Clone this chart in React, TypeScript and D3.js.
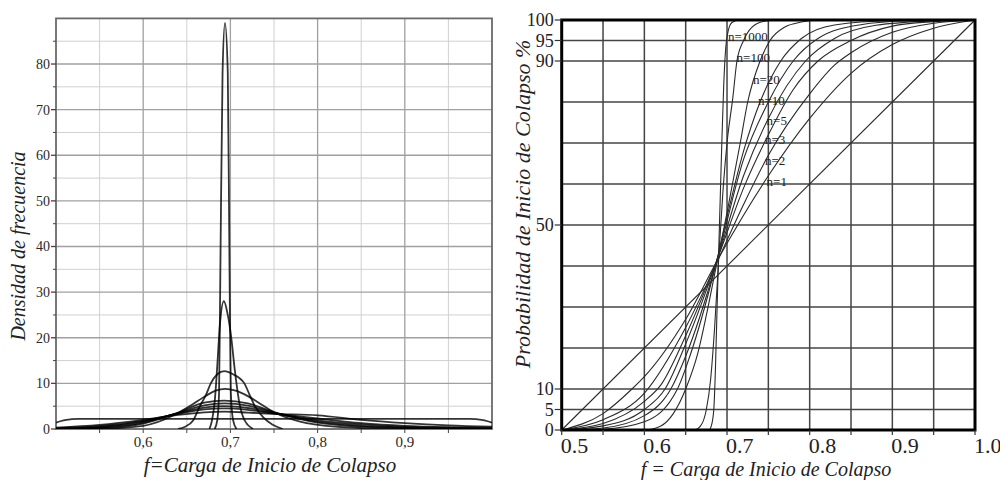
import React from 'react';
import * as d3 from 'd3';

// ---------- Left panel: frequency density ----------
const densTickValues = [0, 10, 20, 30, 40, 50, 60, 70, 80];
const densMinorValues = [5, 15, 25, 35, 45, 55, 65, 75, 85];
const fLeftTickValues = [0.6, 0.7, 0.8, 0.9];
const fLeftTickLabels = ['0,6', '0,7', '0,8', '0,9'];
const fLeftMinorValues = [0.55, 0.65, 0.75, 0.85, 0.95];

const dens_n1 = [[0.5, 1.4], [0.505, 1.7], [0.512, 2.0], [0.525, 2.2], [0.6, 2.2], [0.7, 2.2], [0.8, 2.2], [0.9, 2.2], [0.975, 2.2], [0.988, 2.0], [0.995, 1.7], [1.0, 1.4]];
const dens_n2 = [[0.5, 0.3], [0.55, 0.9], [0.6, 2.0], [0.64, 3.1], [0.67, 3.65], [0.693, 3.8], [0.72, 3.6], [0.75, 3.3], [0.8, 3.0], [0.85, 2.0], [0.9, 1.3], [0.95, 0.8], [1.0, 0.5]];
const dens_n3 = [[0.5, 0.15], [0.55, 0.6], [0.6, 1.8], [0.64, 3.3], [0.67, 4.3], [0.693, 4.5], [0.72, 4.2], [0.75, 3.4], [0.8, 2.3], [0.85, 1.3], [0.9, 0.7], [0.95, 0.4], [1.0, 0.25]];
const dens_c4 = [[0.5, 0.1], [0.55, 0.45], [0.6, 1.6], [0.64, 3.4], [0.67, 4.7], [0.693, 5.0], [0.72, 4.6], [0.75, 3.5], [0.8, 1.9], [0.85, 1.0], [0.9, 0.45], [0.95, 0.22], [1.0, 0.15]];
const dens_n5 = [[0.5, 0.05], [0.55, 0.3], [0.6, 1.4], [0.64, 3.5], [0.67, 5.2], [0.693, 5.6], [0.72, 5.1], [0.75, 3.6], [0.8, 1.6], [0.85, 0.7], [0.9, 0.3], [0.95, 0.12], [1.0, 0.08]];
const dens_c7 = [[0.5, 0.02], [0.55, 0.2], [0.6, 1.2], [0.64, 3.6], [0.67, 5.8], [0.693, 6.2], [0.72, 5.6], [0.75, 3.7], [0.8, 1.4], [0.85, 0.5], [0.9, 0.2], [0.95, 0.08], [1.0, 0.05]];
const dens_n10 = [[0.5, 0], [0.55, 0.05], [0.6, 0.7], [0.635, 3.0], [0.655, 5.2], [0.672, 7.3], [0.683, 8.4], [0.694, 8.8], [0.706, 8.4], [0.72, 7.2], [0.737, 5.2], [0.753, 3.4], [0.78, 1.6], [0.82, 0.5], [0.87, 0.1], [0.92, 0], [1.0, 0]];
const dens_n20 = [[0.64, 0], [0.648, 0.5], [0.657, 1.8], [0.665, 5], [0.672, 7.5], [0.6775, 10], [0.685, 12], [0.693, 12.7], [0.703, 12], [0.716, 10], [0.722, 7.5], [0.728, 5], [0.738, 2.5], [0.748, 1], [0.76, 0]];
const dens_n100 = [[0.676, 0], [0.679, 2], [0.682, 6], [0.685, 14], [0.688, 23], [0.6925, 28], [0.697, 25], [0.701, 20], [0.705, 13], [0.71, 6], [0.716, 2], [0.726, 0]];
const dens_n1000 = [[0.682, 0], [0.685, 2], [0.687, 8], [0.6885, 35], [0.691, 78], [0.6938, 89], [0.697, 78], [0.699, 35], [0.7005, 8], [0.703, 2], [0.707, 0]];

const densitySeries = [dens_n1, dens_n2, dens_n3, dens_c4, dens_n5, dens_c7, dens_n10, dens_n20, dens_n100, dens_n1000];

// ---------- Right panel: cumulative probability ----------
const probLabelValues = [0, 5, 10, 50, 90, 95, 100];
const probGridValues = [5, 10, 20, 30, 40, 50, 60, 70, 80, 90, 95];
const fRightTickValues = [0.5, 0.6, 0.7, 0.8, 0.9, 1.0];
const fRightTickLabels = ['0.5', '0.6', '0.7', '0.8', '0.9', '1.0'];
const fRightGridValues = [0.55, 0.6, 0.65, 0.7, 0.75, 0.8, 0.85, 0.9, 0.95];

const cdf_n1 = [[0.5, 0], [1.0, 100]];
const cdf_n2 = [[0.5, 0], [0.55, 4], [0.585, 10], [0.6, 13], [0.65, 27], [0.69, 42], [0.75, 62], [0.8, 76], [0.85, 87], [0.9, 94], [0.95, 98], [1.0, 100]];
const cdf_n3 = [[0.5, 0], [0.55, 2.5], [0.6, 9], [0.65, 25], [0.688, 41], [0.72, 55], [0.75, 67], [0.8, 82], [0.83, 89], [0.85, 92], [0.9, 97], [0.95, 99.2], [1.0, 100]];
const cdf_c4 = [[0.5, 0], [0.55, 1.6], [0.6, 7], [0.62, 11], [0.65, 23], [0.687, 41], [0.72, 59], [0.75, 72], [0.78, 83], [0.81, 90], [0.85, 95], [0.9, 98.5], [0.95, 99.6], [1.0, 100]];
const cdf_n5 = [[0.5, 0], [0.55, 1], [0.6, 5], [0.625, 10], [0.65, 21], [0.687, 41], [0.72, 62], [0.75, 76], [0.795, 90], [0.83, 95.5], [0.88, 98.7], [0.95, 99.8], [1.0, 100]];
const cdf_c7 = [[0.5, 0], [0.55, 0.5], [0.6, 3.5], [0.632, 10], [0.65, 18], [0.686, 40], [0.72, 66], [0.75, 80], [0.78, 90], [0.81, 95.5], [0.86, 98.8], [0.92, 99.8], [1.0, 100]];
const cdf_n10 = [[0.5, 0], [0.55, 0.2], [0.6, 2], [0.64, 10], [0.655, 18], [0.686, 40], [0.7, 52], [0.72, 68], [0.74, 80], [0.765, 90], [0.79, 95.5], [0.83, 98.8], [0.9, 99.8], [1.0, 100]];
const cdf_n20 = [[0.5, 0], [0.6, 0], [0.62, 1], [0.635, 4], [0.65, 10], [0.665, 19], [0.675, 28], [0.686, 39], [0.7, 53], [0.716, 70], [0.725, 80], [0.74, 90], [0.752, 95], [0.77, 98.3], [0.79, 99.5], [0.81, 100], [1.0, 100]];
const cdf_n100 = [[0.5, 0], [0.66, 0], [0.668, 1], [0.675, 5], [0.68, 12], [0.685, 25], [0.69, 42], [0.695, 58], [0.7, 70], [0.707, 81], [0.712, 90], [0.72, 95], [0.73, 98.2], [0.745, 99.7], [0.76, 100], [1.0, 100]];
const cdf_n1000 = [[0.5, 0], [0.678, 0], [0.681, 1], [0.684, 5], [0.686, 15], [0.688, 30], [0.69, 44], [0.692, 58], [0.694, 72], [0.696, 84], [0.698, 92], [0.701, 97], [0.706, 99.4], [0.715, 100], [1.0, 100]];

const cdfSeries = [cdf_n1, cdf_n2, cdf_n3, cdf_c4, cdf_n5, cdf_c7, cdf_n10, cdf_n20, cdf_n100, cdf_n1000];

const curveLabels = ['n=1000', 'n=100', 'n=20', 'n=10', 'n=5', 'n=3', 'n=2', 'n=1'];

export default function App() {
  const serif = '"Liberation Serif", "Times New Roman", serif';

  const xL = d3.scaleLinear().domain([0.5, 1.0]).range([56, 492]);
  const yL = d3.scaleLinear().domain([0, 90]).range([429, 18.4]);
  const xR = d3.scaleLinear().domain([0.5, 1.0]).range([561.7, 975]);
  const yR = d3.scaleLinear().domain([0, 100]).range([430, 20]);

  const lineL = d3.line<number[]>().x(d => xL(d[0])).y(d => yL(d[1])).curve(d3.curveMonotoneX);
  const lineR = d3.line<number[]>().x(d => xR(d[0])).y(d => yR(d[1])).curve(d3.curveMonotoneX);

  // label anchors (data coordinates: f, probability %)
  const labelAnchors: [number, number][] = [
    [0.7011, 94.9], [0.7116, 89.8], [0.7313, 84.4], [0.7374, 79.3],
    [0.7479, 74.4], [0.7458, 69.8], [0.7458, 64.6], [0.7479, 59.5],
  ];

  const [lx0, lx1] = xL.range();
  const [ly0, ly1] = yL.range();
  const [rx0, rx1] = xR.range();
  const [ry0, ry1] = yR.range();

  return (
    <svg width={1000} height={480} style={{ position: 'absolute', left: 0, top: 0, background: '#fff' }} fontFamily={serif}>
      <rect x={0} y={0} width={1000} height={480} fill="#fff" />
      <defs>
        <clipPath id="clipL">
          <rect x={lx0} y={ly1 - 2} width={lx1 - lx0} height={ly0 - ly1 + 2} />
        </clipPath>
      </defs>
      {/* ============ LEFT PANEL ============ */}
      <g>
        {fLeftMinorValues.map(v => (
          <line key={'lmx' + v} x1={xL(v)} x2={xL(v)} y1={ly0} y2={ly1} stroke="#d0d0d0" strokeWidth={1} />
        ))}
        {densMinorValues.map(v => (
          <line key={'lmy' + v} x1={lx0} x2={lx1} y1={yL(v)} y2={yL(v)} stroke="#d0d0d0" strokeWidth={1} />
        ))}
        {fLeftTickValues.map(v => (
          <line key={'lgx' + v} x1={xL(v)} x2={xL(v)} y1={ly0} y2={ly1} stroke="#a0a0a0" strokeWidth={1.3} />
        ))}
        {densTickValues.filter(v => v > 0).map(v => (
          <line key={'lgy' + v} x1={lx0} x2={lx1} y1={yL(v)} y2={yL(v)} stroke="#a0a0a0" strokeWidth={1.3} />
        ))}
        <rect x={lx0} y={yL(90)} width={lx1 - lx0} height={ly0 - yL(90)} fill="none" stroke="#6a6a6a" strokeWidth={1.8} />
        {densTickValues.map(v => (
          <line key={'lty' + v} x1={lx0 - 5} x2={lx0} y1={yL(v)} y2={yL(v)} stroke="#444" strokeWidth={1.3} />
        ))}
        {densMinorValues.map(v => (
          <line key={'ltym' + v} x1={lx0 - 3} x2={lx0} y1={yL(v)} y2={yL(v)} stroke="#444" strokeWidth={1} />
        ))}
        {[...fLeftTickValues, ...fLeftMinorValues].map(v => (
          <line key={'ltx' + v} x1={xL(v)} x2={xL(v)} y1={ly0} y2={ly0 + 4} stroke="#444" strokeWidth={1} />
        ))}
        {densTickValues.map(v => (
          <text key={'lly' + v} x={lx0 - 6} y={yL(v)} dy="0.35em" textAnchor="end" fontSize={14} fill="#2a2a2a">{v}</text>
        ))}
        {fLeftTickValues.map((v, i) => (
          <text key={'llx' + v} x={xL(v)} y={447} textAnchor="middle" fontSize={15} fill="#2a2a2a">{fLeftTickLabels[i]}</text>
        ))}
        <g clipPath="url(#clipL)">
          {densitySeries.map((s, i) => (
            <path key={'ld' + i} d={lineL(s) || ''} fill="none" stroke="#000" strokeWidth={1.8} strokeOpacity={0.8} />
          ))}
        </g>
        <text x={270} y={472} textAnchor="middle" fontSize={21} fontStyle="italic" fill="#222">f=Carga de Inicio de Colapso</text>
        <text transform="translate(25,246) rotate(-90)" textAnchor="middle" fontSize={20} fontStyle="italic" fill="#222">Densidad de frecuencia</text>
      </g>

      {/* ============ RIGHT PANEL ============ */}
      <g>
        {fRightGridValues.map(v => (
          <line key={'rgx' + v} x1={xR(v)} x2={xR(v)} y1={ry0} y2={ry1} stroke="#444" strokeWidth={1.5} />
        ))}
        {probGridValues.map(v => (
          <line key={'rgy' + v} x1={rx0} x2={rx1} y1={yR(v)} y2={yR(v)} stroke="#444" strokeWidth={1.5} />
        ))}
        {cdfSeries.map((s, i) => (
          <path key={'rc' + i} d={lineR(s) || ''} fill="none" stroke="#2a2a2a" strokeWidth={1.1} />
        ))}
        <rect x={rx0} y={ry1} width={rx1 - rx0} height={ry0 - ry1} fill="none" stroke="#000" strokeWidth={3} />
        {fRightGridValues.concat([0.5, 1.0]).map(v => (
          <line key={'rtx' + v} x1={xR(v)} x2={xR(v)} y1={ry0} y2={ry0 + 5} stroke="#333" strokeWidth={1.2} />
        ))}
        {probLabelValues.map(v => (
          <line key={'rty' + v} x1={rx0 - 7} x2={rx0} y1={yR(v)} y2={yR(v)} stroke="#333" strokeWidth={1.2} />
        ))}
        {probLabelValues.map(v => (
          <text key={'rly' + v} x={rx0 - 8} y={yR(v)} dy="0.35em" textAnchor="end" fontSize={18} fill="#222">{v}</text>
        ))}
        {fRightTickValues.map((v, i) => (
          <text key={'rlx' + v} x={xR(v) - 1} y={453} textAnchor="start" fontSize={22} fill="#222">{fRightTickLabels[i]}</text>
        ))}
        {curveLabels.map((t, i) => (
          <text key={'cl' + t} x={xR(labelAnchors[i][0])} y={yR(labelAnchors[i][1])} fontSize={13} fill="#222">{t}</text>
        ))}
        <text x={766} y={476} textAnchor="middle" fontSize={20} fontStyle="italic" fill="#222">f = Carga de Inicio de Colapso</text>
        <text transform="translate(530,204) rotate(-90)" textAnchor="middle" fontSize={22} fontStyle="italic" fill="#222">Probabilidad de Inicio de Colapso %</text>
      </g>
    </svg>
  );
}
